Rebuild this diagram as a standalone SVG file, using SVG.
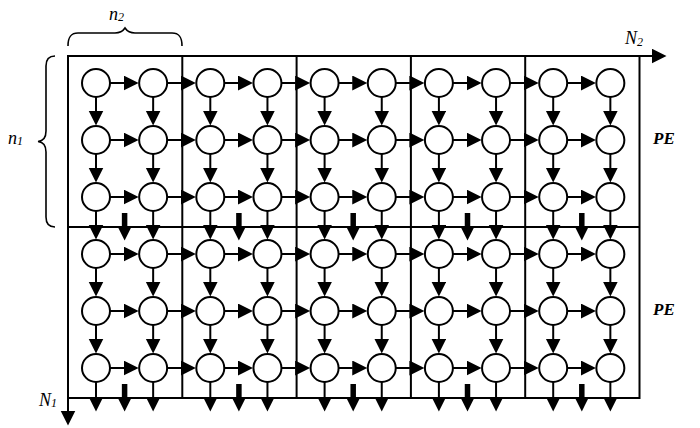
<svg xmlns="http://www.w3.org/2000/svg" width="700" height="428" viewBox="0 0 700 428">
<defs>
<style>
.frame{fill:none;stroke:#000;stroke-width:2}
.brace{fill:none;stroke:#000;stroke-width:1.6}
.pe circle{fill:#fff;stroke:#000;stroke-width:2}
.c line{stroke:#000;stroke-width:2;marker-end:url(#ah)}
.c line.bar{stroke-width:5.5}
.lbl{font-family:'Times New Roman','Liberation Serif','DejaVu Serif',serif;font-style:italic;font-size:18px;fill:#000}
.sub{font-size:12px}
.pel{font-family:'Times New Roman','Liberation Serif','DejaVu Serif',serif;font-style:italic;font-weight:bold;font-size:17px;fill:#000}
</style>
<marker id="ah" markerUnits="userSpaceOnUse" markerWidth="16" markerHeight="16" viewBox="0 0 16 16" refX="0.5" refY="7.5" orient="auto"><path d="M0,0 L15,7.5 L0,15 z" fill="#000"/></marker>
</defs>
<rect width="700" height="428" fill="#fff"/>
<g id="frame" class="frame">
<rect x="68" y="56" width="571.5" height="342"/>
<line x1="68" y1="227" x2="639.5" y2="227"/>
<line x1="182.3" y1="56" x2="182.3" y2="398"/>
<line x1="296.6" y1="56" x2="296.6" y2="398"/>
<line x1="410.9" y1="56" x2="410.9" y2="398"/>
<line x1="525.2" y1="56" x2="525.2" y2="398"/>
</g>
<g id="braces" class="brace">
<path d="M68,46 C68,38 70,33 78,33 L115,33 C120,33 123,31 125,28 C127,31 130,33 135,33 L172,33 C180,33 182,38 182,46"/>
<path d="M55,56 C49,56 46,59 46,66 L46,131 C46,137 43,141 38,141.5 C43,142 46,146 46,152 L46,217 C46,224 49,227 55,227"/>
</g>
<g id="connectors" class="c">
<line x1="68" y1="56" x2="652" y2="56"/>
<line x1="68" y1="397" x2="68" y2="411"/>
<line x1="110" y1="83" x2="124.15" y2="83"/><line x1="167.15" y1="83" x2="181.3" y2="83"/><line x1="224.3" y1="83" x2="238.45" y2="83"/><line x1="281.45" y1="83" x2="295.6" y2="83"/><line x1="338.6" y1="83" x2="352.75" y2="83"/><line x1="395.75" y1="83" x2="409.9" y2="83"/><line x1="452.9" y1="83" x2="467.05" y2="83"/><line x1="510.05" y1="83" x2="524.2" y2="83"/><line x1="567.2" y1="83" x2="581.35" y2="83"/>
<line x1="110" y1="140" x2="124.15" y2="140"/><line x1="167.15" y1="140" x2="181.3" y2="140"/><line x1="224.3" y1="140" x2="238.45" y2="140"/><line x1="281.45" y1="140" x2="295.6" y2="140"/><line x1="338.6" y1="140" x2="352.75" y2="140"/><line x1="395.75" y1="140" x2="409.9" y2="140"/><line x1="452.9" y1="140" x2="467.05" y2="140"/><line x1="510.05" y1="140" x2="524.2" y2="140"/><line x1="567.2" y1="140" x2="581.35" y2="140"/>
<line x1="110" y1="197" x2="124.15" y2="197"/><line x1="167.15" y1="197" x2="181.3" y2="197"/><line x1="224.3" y1="197" x2="238.45" y2="197"/><line x1="281.45" y1="197" x2="295.6" y2="197"/><line x1="338.6" y1="197" x2="352.75" y2="197"/><line x1="395.75" y1="197" x2="409.9" y2="197"/><line x1="452.9" y1="197" x2="467.05" y2="197"/><line x1="510.05" y1="197" x2="524.2" y2="197"/><line x1="567.2" y1="197" x2="581.35" y2="197"/>
<line x1="110" y1="254" x2="124.15" y2="254"/><line x1="167.15" y1="254" x2="181.3" y2="254"/><line x1="224.3" y1="254" x2="238.45" y2="254"/><line x1="281.45" y1="254" x2="295.6" y2="254"/><line x1="338.6" y1="254" x2="352.75" y2="254"/><line x1="395.75" y1="254" x2="409.9" y2="254"/><line x1="452.9" y1="254" x2="467.05" y2="254"/><line x1="510.05" y1="254" x2="524.2" y2="254"/><line x1="567.2" y1="254" x2="581.35" y2="254"/>
<line x1="110" y1="311" x2="124.15" y2="311"/><line x1="167.15" y1="311" x2="181.3" y2="311"/><line x1="224.3" y1="311" x2="238.45" y2="311"/><line x1="281.45" y1="311" x2="295.6" y2="311"/><line x1="338.6" y1="311" x2="352.75" y2="311"/><line x1="395.75" y1="311" x2="409.9" y2="311"/><line x1="452.9" y1="311" x2="467.05" y2="311"/><line x1="510.05" y1="311" x2="524.2" y2="311"/><line x1="567.2" y1="311" x2="581.35" y2="311"/>
<line x1="110" y1="368" x2="124.15" y2="368"/><line x1="167.15" y1="368" x2="181.3" y2="368"/><line x1="224.3" y1="368" x2="238.45" y2="368"/><line x1="281.45" y1="368" x2="295.6" y2="368"/><line x1="338.6" y1="368" x2="352.75" y2="368"/><line x1="395.75" y1="368" x2="409.9" y2="368"/><line x1="452.9" y1="368" x2="467.05" y2="368"/><line x1="510.05" y1="368" x2="524.2" y2="368"/><line x1="567.2" y1="368" x2="581.35" y2="368"/>
<line x1="96" y1="97" x2="96" y2="111"/><line x1="96" y1="154" x2="96" y2="168"/><line x1="96" y1="211" x2="96" y2="225"/><line x1="96" y1="268" x2="96" y2="282"/><line x1="96" y1="325" x2="96" y2="339"/><line x1="96" y1="382" x2="96" y2="397"/>
<line x1="153.15" y1="97" x2="153.15" y2="111"/><line x1="153.15" y1="154" x2="153.15" y2="168"/><line x1="153.15" y1="211" x2="153.15" y2="225"/><line x1="153.15" y1="268" x2="153.15" y2="282"/><line x1="153.15" y1="325" x2="153.15" y2="339"/><line x1="153.15" y1="382" x2="153.15" y2="397"/>
<line x1="210.3" y1="97" x2="210.3" y2="111"/><line x1="210.3" y1="154" x2="210.3" y2="168"/><line x1="210.3" y1="211" x2="210.3" y2="225"/><line x1="210.3" y1="268" x2="210.3" y2="282"/><line x1="210.3" y1="325" x2="210.3" y2="339"/><line x1="210.3" y1="382" x2="210.3" y2="397"/>
<line x1="267.45" y1="97" x2="267.45" y2="111"/><line x1="267.45" y1="154" x2="267.45" y2="168"/><line x1="267.45" y1="211" x2="267.45" y2="225"/><line x1="267.45" y1="268" x2="267.45" y2="282"/><line x1="267.45" y1="325" x2="267.45" y2="339"/><line x1="267.45" y1="382" x2="267.45" y2="397"/>
<line x1="324.6" y1="97" x2="324.6" y2="111"/><line x1="324.6" y1="154" x2="324.6" y2="168"/><line x1="324.6" y1="211" x2="324.6" y2="225"/><line x1="324.6" y1="268" x2="324.6" y2="282"/><line x1="324.6" y1="325" x2="324.6" y2="339"/><line x1="324.6" y1="382" x2="324.6" y2="397"/>
<line x1="381.75" y1="97" x2="381.75" y2="111"/><line x1="381.75" y1="154" x2="381.75" y2="168"/><line x1="381.75" y1="211" x2="381.75" y2="225"/><line x1="381.75" y1="268" x2="381.75" y2="282"/><line x1="381.75" y1="325" x2="381.75" y2="339"/><line x1="381.75" y1="382" x2="381.75" y2="397"/>
<line x1="438.9" y1="97" x2="438.9" y2="111"/><line x1="438.9" y1="154" x2="438.9" y2="168"/><line x1="438.9" y1="211" x2="438.9" y2="225"/><line x1="438.9" y1="268" x2="438.9" y2="282"/><line x1="438.9" y1="325" x2="438.9" y2="339"/><line x1="438.9" y1="382" x2="438.9" y2="397"/>
<line x1="496.05" y1="97" x2="496.05" y2="111"/><line x1="496.05" y1="154" x2="496.05" y2="168"/><line x1="496.05" y1="211" x2="496.05" y2="225"/><line x1="496.05" y1="268" x2="496.05" y2="282"/><line x1="496.05" y1="325" x2="496.05" y2="339"/><line x1="496.05" y1="382" x2="496.05" y2="397"/>
<line x1="553.2" y1="97" x2="553.2" y2="111"/><line x1="553.2" y1="154" x2="553.2" y2="168"/><line x1="553.2" y1="211" x2="553.2" y2="225"/><line x1="553.2" y1="268" x2="553.2" y2="282"/><line x1="553.2" y1="325" x2="553.2" y2="339"/><line x1="553.2" y1="382" x2="553.2" y2="397"/>
<line x1="610.35" y1="97" x2="610.35" y2="111"/><line x1="610.35" y1="154" x2="610.35" y2="168"/><line x1="610.35" y1="211" x2="610.35" y2="225"/><line x1="610.35" y1="268" x2="610.35" y2="282"/><line x1="610.35" y1="325" x2="610.35" y2="339"/><line x1="610.35" y1="382" x2="610.35" y2="397"/>
<line class="bar" x1="124.6" y1="213" x2="124.6" y2="226"/><line class="bar" x1="238.9" y1="213" x2="238.9" y2="226"/><line class="bar" x1="353.2" y1="213" x2="353.2" y2="226"/><line class="bar" x1="467.5" y1="213" x2="467.5" y2="226"/><line class="bar" x1="581.8" y1="213" x2="581.8" y2="226"/>
<line class="bar" x1="124.6" y1="384" x2="124.6" y2="397"/><line class="bar" x1="238.9" y1="384" x2="238.9" y2="397"/><line class="bar" x1="353.2" y1="384" x2="353.2" y2="397"/><line class="bar" x1="467.5" y1="384" x2="467.5" y2="397"/><line class="bar" x1="581.8" y1="384" x2="581.8" y2="397"/>
</g>
<g id="pe-1-1" class="pe"><circle cx="96" cy="83" r="14"/></g>
<g id="pe-1-2" class="pe"><circle cx="153.15" cy="83" r="14"/></g>
<g id="pe-1-3" class="pe"><circle cx="210.3" cy="83" r="14"/></g>
<g id="pe-1-4" class="pe"><circle cx="267.45" cy="83" r="14"/></g>
<g id="pe-1-5" class="pe"><circle cx="324.6" cy="83" r="14"/></g>
<g id="pe-1-6" class="pe"><circle cx="381.75" cy="83" r="14"/></g>
<g id="pe-1-7" class="pe"><circle cx="438.9" cy="83" r="14"/></g>
<g id="pe-1-8" class="pe"><circle cx="496.05" cy="83" r="14"/></g>
<g id="pe-1-9" class="pe"><circle cx="553.2" cy="83" r="14"/></g>
<g id="pe-1-10" class="pe"><circle cx="610.35" cy="83" r="14"/></g>
<g id="pe-2-1" class="pe"><circle cx="96" cy="140" r="14"/></g>
<g id="pe-2-2" class="pe"><circle cx="153.15" cy="140" r="14"/></g>
<g id="pe-2-3" class="pe"><circle cx="210.3" cy="140" r="14"/></g>
<g id="pe-2-4" class="pe"><circle cx="267.45" cy="140" r="14"/></g>
<g id="pe-2-5" class="pe"><circle cx="324.6" cy="140" r="14"/></g>
<g id="pe-2-6" class="pe"><circle cx="381.75" cy="140" r="14"/></g>
<g id="pe-2-7" class="pe"><circle cx="438.9" cy="140" r="14"/></g>
<g id="pe-2-8" class="pe"><circle cx="496.05" cy="140" r="14"/></g>
<g id="pe-2-9" class="pe"><circle cx="553.2" cy="140" r="14"/></g>
<g id="pe-2-10" class="pe"><circle cx="610.35" cy="140" r="14"/></g>
<g id="pe-3-1" class="pe"><circle cx="96" cy="197" r="14"/></g>
<g id="pe-3-2" class="pe"><circle cx="153.15" cy="197" r="14"/></g>
<g id="pe-3-3" class="pe"><circle cx="210.3" cy="197" r="14"/></g>
<g id="pe-3-4" class="pe"><circle cx="267.45" cy="197" r="14"/></g>
<g id="pe-3-5" class="pe"><circle cx="324.6" cy="197" r="14"/></g>
<g id="pe-3-6" class="pe"><circle cx="381.75" cy="197" r="14"/></g>
<g id="pe-3-7" class="pe"><circle cx="438.9" cy="197" r="14"/></g>
<g id="pe-3-8" class="pe"><circle cx="496.05" cy="197" r="14"/></g>
<g id="pe-3-9" class="pe"><circle cx="553.2" cy="197" r="14"/></g>
<g id="pe-3-10" class="pe"><circle cx="610.35" cy="197" r="14"/></g>
<g id="pe-4-1" class="pe"><circle cx="96" cy="254" r="14"/></g>
<g id="pe-4-2" class="pe"><circle cx="153.15" cy="254" r="14"/></g>
<g id="pe-4-3" class="pe"><circle cx="210.3" cy="254" r="14"/></g>
<g id="pe-4-4" class="pe"><circle cx="267.45" cy="254" r="14"/></g>
<g id="pe-4-5" class="pe"><circle cx="324.6" cy="254" r="14"/></g>
<g id="pe-4-6" class="pe"><circle cx="381.75" cy="254" r="14"/></g>
<g id="pe-4-7" class="pe"><circle cx="438.9" cy="254" r="14"/></g>
<g id="pe-4-8" class="pe"><circle cx="496.05" cy="254" r="14"/></g>
<g id="pe-4-9" class="pe"><circle cx="553.2" cy="254" r="14"/></g>
<g id="pe-4-10" class="pe"><circle cx="610.35" cy="254" r="14"/></g>
<g id="pe-5-1" class="pe"><circle cx="96" cy="311" r="14"/></g>
<g id="pe-5-2" class="pe"><circle cx="153.15" cy="311" r="14"/></g>
<g id="pe-5-3" class="pe"><circle cx="210.3" cy="311" r="14"/></g>
<g id="pe-5-4" class="pe"><circle cx="267.45" cy="311" r="14"/></g>
<g id="pe-5-5" class="pe"><circle cx="324.6" cy="311" r="14"/></g>
<g id="pe-5-6" class="pe"><circle cx="381.75" cy="311" r="14"/></g>
<g id="pe-5-7" class="pe"><circle cx="438.9" cy="311" r="14"/></g>
<g id="pe-5-8" class="pe"><circle cx="496.05" cy="311" r="14"/></g>
<g id="pe-5-9" class="pe"><circle cx="553.2" cy="311" r="14"/></g>
<g id="pe-5-10" class="pe"><circle cx="610.35" cy="311" r="14"/></g>
<g id="pe-6-1" class="pe"><circle cx="96" cy="368" r="14"/></g>
<g id="pe-6-2" class="pe"><circle cx="153.15" cy="368" r="14"/></g>
<g id="pe-6-3" class="pe"><circle cx="210.3" cy="368" r="14"/></g>
<g id="pe-6-4" class="pe"><circle cx="267.45" cy="368" r="14"/></g>
<g id="pe-6-5" class="pe"><circle cx="324.6" cy="368" r="14"/></g>
<g id="pe-6-6" class="pe"><circle cx="381.75" cy="368" r="14"/></g>
<g id="pe-6-7" class="pe"><circle cx="438.9" cy="368" r="14"/></g>
<g id="pe-6-8" class="pe"><circle cx="496.05" cy="368" r="14"/></g>
<g id="pe-6-9" class="pe"><circle cx="553.2" cy="368" r="14"/></g>
<g id="pe-6-10" class="pe"><circle cx="610.35" cy="368" r="14"/></g>
<g id="labels">
<text class="lbl" x="109" y="20">n<tspan class="sub" dy="1">2</tspan></text>
<text class="lbl" x="8" y="144">n<tspan class="sub" dy="1">1</tspan></text>
<text class="lbl" x="625" y="44">N<tspan class="sub" dy="2">2</tspan></text>
<text class="lbl" x="39" y="406">N<tspan class="sub" dy="1">1</tspan></text>
<text class="pel" x="653" y="143.5">PE</text>
<text class="pel" x="653" y="315">PE</text>
</g>
</svg>
